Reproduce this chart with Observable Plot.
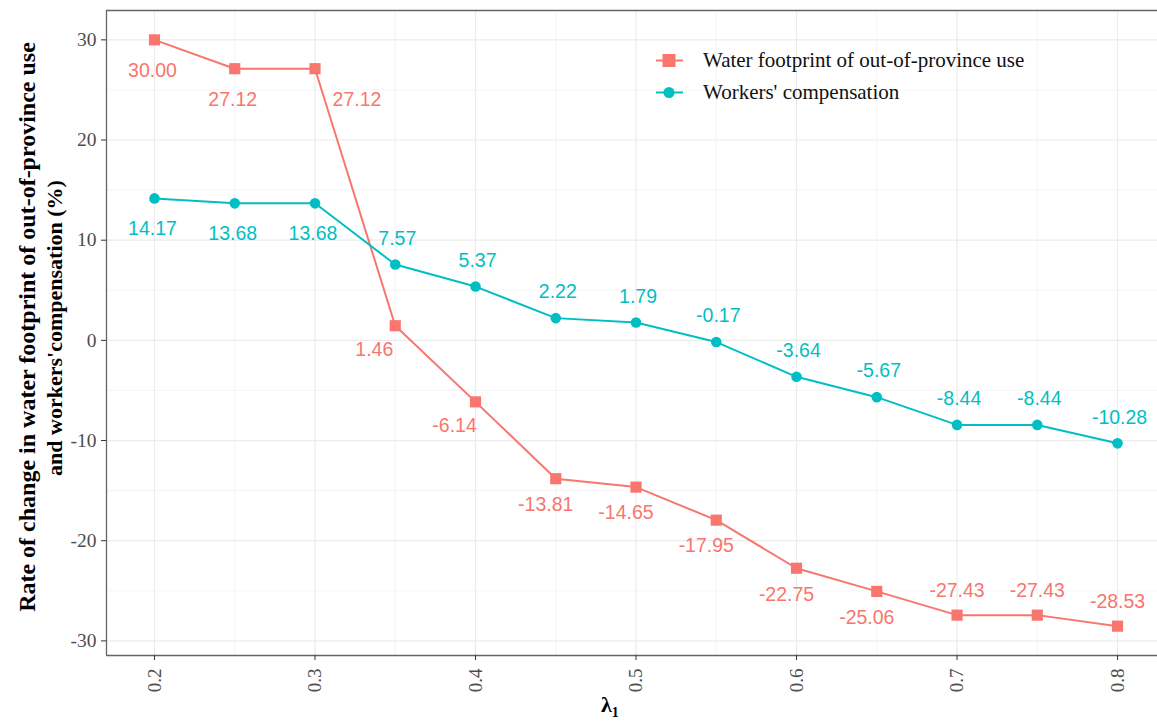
<!DOCTYPE html>
<html>
<head>
<meta charset="utf-8">
<script src="https://cdn.jsdelivr.net/npm/d3@7"></script>
<script src="https://cdn.jsdelivr.net/npm/@observablehq/plot@0.6"></script>
<style>
  html, body { margin: 0; padding: 0; background: #fff; overflow: hidden; }
  #wrap { position: relative; width: 1157px; height: 722px; }
  .legend { position: absolute; left: 656px; top: 44px; font-family: "Liberation Serif", serif; font-size: 21px; color: #111; }
  .legend .row { display: flex; align-items: center; height: 32px; }
  .legend svg { margin-right: 20px; }
  .xlab { position: absolute; left: 601px; top: 692px; font-family: "Liberation Serif", serif; font-weight: bold; font-size: 22px; color: #000; }
  .xlab sub { font-size: 14px; }
</style>
</head>
<body>
<div id="wrap"></div>
<script>
// ---- data ----
const lambda = [0.2, 0.25, 0.3, 0.35, 0.4, 0.45, 0.5, 0.55, 0.6, 0.65, 0.7, 0.75, 0.8];
const waterFootprint = [30.00, 27.12, 27.12, 1.46, -6.14, -13.81, -14.65, -17.95, -22.75, -25.06, -27.43, -27.43, -28.53];
const workersComp = [14.17, 13.68, 13.68, 7.57, 5.37, 2.22, 1.79, -0.17, -3.64, -5.67, -8.44, -8.44, -10.28];
const seriesNames = ["Water footprint of out-of-province use", "Workers' compensation"];
const seriesColors = ["#F8766D", "#00BFC4"];
const xMajor = [0.2, 0.3, 0.4, 0.5, 0.6, 0.7, 0.8];
const xMinor = [0.25, 0.35, 0.45, 0.55, 0.65, 0.75];
const yMajor = [-30, -20, -10, 0, 10, 20, 30];
const yMinor = [-25, -15, -5, 5, 15, 25];
const yTitleLine1 = "Rate of change in water footprint of out-of-province use";
const yTitleLine2 = "and workers'compensation (%)";

const water = lambda.map((l, i) => ({lambda: l, value: waterFootprint[i]}));
const workers = lambda.map((l, i) => ({lambda: l, value: workersComp[i]}));

const xDomain = [0.1701, 0.8249];
const yDomain = [-31.46, 32.93];
const fmt = d => d.value.toFixed(2);
const labelFont = {fontFamily: "Liberation Sans, Arial, sans-serif", fontSize: 19.5, text: fmt, x: "lambda", y: "value"};
const titleFont = {frameAnchor: "left", rotate: -90, textAnchor: "middle", lineAnchor: "middle", fontWeight: "bold", fontFamily: "Liberation Serif, serif", fill: "#000"};

const near = (a, b) => Math.abs(a - b) < 1e-9;

const chart = Plot.plot({
  width: 1157,
  height: 722,
  marginLeft: 106,
  marginRight: 0,
  marginTop: 10,
  marginBottom: 67,
  style: {background: "#fff", fontFamily: "Liberation Serif, serif"},
  x: {domain: xDomain, axis: null},
  y: {domain: yDomain, axis: null},
  marks: [
    Plot.ruleX(xMinor, {stroke: "#EFEFEF", strokeWidth: 0.7}),
    Plot.ruleY(yMinor, {stroke: "#EFEFEF", strokeWidth: 0.7}),
    Plot.ruleX(xMajor, {stroke: "#EBEBEB", strokeWidth: 1.2}),
    Plot.ruleY(yMajor, {stroke: "#EBEBEB", strokeWidth: 1.2}),
    // panel border (right side outside view)
    Plot.ruleY([yDomain[1]], {stroke: "#666", strokeWidth: 1.3}),
    Plot.ruleY([yDomain[0]], {stroke: "#666", strokeWidth: 1.3}),
    Plot.ruleX([xDomain[0]], {stroke: "#666", strokeWidth: 1.3}),
    Plot.axisY(yMajor, {tickSize: 5, tickPadding: 5, stroke: "#333", fill: "#4d4d4d", fontSize: 19.5, fontFamily: "Liberation Serif, serif", label: null, tickFormat: d => String(d)}),
    Plot.axisX(xMajor, {tickSize: 5, tickPadding: 8, tickRotate: -90, stroke: "#333", fill: "#4d4d4d", fontSize: 19, fontFamily: "Liberation Serif, serif", label: null, tickFormat: d => d.toFixed(1)}),
    // lines & points
    Plot.line(water, {x: "lambda", y: "value", stroke: seriesColors[0], strokeWidth: 2}),
    Plot.line(workers, {x: "lambda", y: "value", stroke: seriesColors[1], strokeWidth: 2}),
    Plot.dot(water, {x: "lambda", y: "value", symbol: "square", r: 6.3, fill: seriesColors[0], stroke: "none"}),
    Plot.dot(workers, {x: "lambda", y: "value", symbol: "circle", r: 5.3, fill: seriesColors[1], stroke: "none"}),
    // water labels
    Plot.text(water.filter(d => d.lambda < 0.29), {...labelFont, fill: seriesColors[0], dx: -2, dy: 31}),
    Plot.text(water.filter(d => near(d.lambda, 0.3)), {...labelFont, fill: seriesColors[0], dx: 42, dy: 31}),
    Plot.text(water.filter(d => d.lambda > 0.31 && d.lambda < 0.42), {...labelFont, fill: seriesColors[0], dx: -21, dy: 24}),
    Plot.text(water.filter(d => d.lambda > 0.42 && d.lambda < 0.68), {...labelFont, fill: seriesColors[0], dx: -10, dy: 26}),
    Plot.text(water.filter(d => d.lambda > 0.68), {...labelFont, fill: seriesColors[0], dx: 0, dy: -24}),
    // workers labels
    Plot.text(workers.filter(d => d.lambda < 0.31), {...labelFont, fill: seriesColors[1], dx: -2, dy: 30}),
    Plot.text(workers.filter(d => d.lambda > 0.31), {...labelFont, fill: seriesColors[1], dx: 2, dy: -26}),
    // y-axis title
    Plot.text([yTitleLine1], {...titleFont, fontSize: 24, dx: -79, dy: -6}),
    Plot.text([yTitleLine2], {...titleFont, fontSize: 22, dx: -52, dy: -5})
  ]
});

const wrap = document.getElementById("wrap");
wrap.appendChild(chart);

// legend
const legend = document.createElement("div");
legend.className = "legend";
seriesNames.forEach((name, i) => {
  const row = document.createElement("div");
  row.className = "row";
  const shape = i === 0
    ? `<rect x="6.5" y="4" width="13" height="13" fill="${seriesColors[i]}"/>`
    : `<circle cx="13" cy="10.5" r="5.5" fill="${seriesColors[i]}"/>`;
  row.innerHTML = `<svg width="27" height="21"><line x1="0" x2="27" y1="10.5" y2="10.5" stroke="${seriesColors[i]}" stroke-width="2"/>${shape}</svg><span>${name}</span>`;
  legend.appendChild(row);
});
wrap.appendChild(legend);

const xl = document.createElement("div");
xl.className = "xlab";
xl.innerHTML = "λ<sub>1</sub>";
wrap.appendChild(xl);
</script>
</body>
</html>
